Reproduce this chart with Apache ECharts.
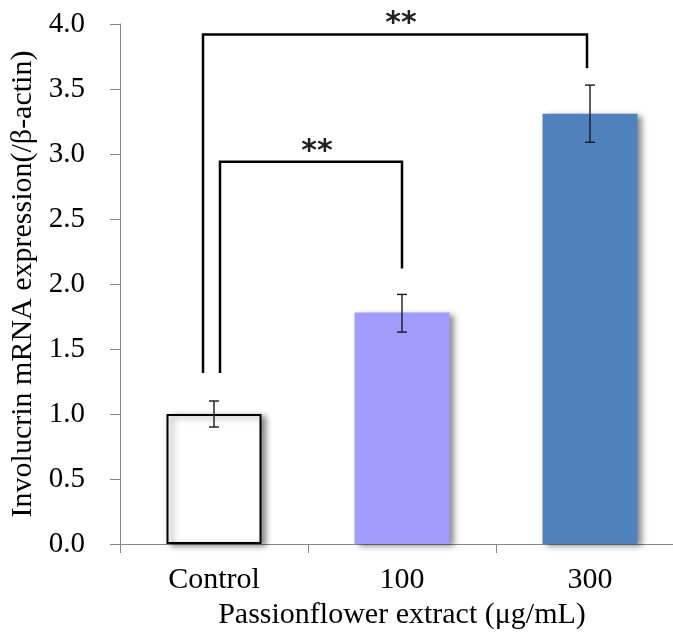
<!DOCTYPE html>
<html>
<head>
<meta charset="utf-8">
<script src="https://cdn.jsdelivr.net/npm/echarts@6/dist/echarts.min.js"></script>
<style>
html,body{margin:0;padding:0;background:#fff;}
#chart{width:673px;height:634px;}
</style>
</head>
<body>
<div id="chart"></div>
<script>
// ---- data ----
const categories = ['Control', '100', '300'];
const means = [1.00, 1.78, 3.31];
const errLow = [0.90, 1.63, 3.09];
const errHigh = [1.10, 1.92, 3.53];
const yMin = 0, yMax = 4.0, yStep = 0.5;
// significance brackets: [groupA, groupB, topValue, bottomA, bottomB]
const sigPairs = [[0, 1, 2.94, 1.315, 2.12], [0, 2, 3.92, 1.315, 3.66]];
const sigLabels = ['**', '**'];
const xTitle = 'Passionflower extract (μg/mL)';
const yTitle = 'Involucrin mRNA expression(/β-actin)';

// ---- styles ----
const serif = '"Liberation Serif", "Times New Roman", serif';
const barColors = ['#ffffff', '#a09cfc', '#4f81bd'];
const axisGray = '#868686';
const leftOffsets = [6, -11];
const rightOffsets = [0, -3];

const chart = echarts.init(document.getElementById('chart'), null, {renderer: 'canvas'});

const option = {
  backgroundColor: '#ffffff',
  animation: false,
  grid: {left: 120, top: 24, width: 564, height: 520, containLabel: false, outerBoundsMode: 'none'},
  xAxis: {
    type: 'category',
    data: categories,
    name: xTitle,
    nameLocation: 'middle',
    nameGap: 56,
    nameTextStyle: {fontFamily: serif, fontSize: 30, color: '#000'},
    axisLine: {lineStyle: {color: axisGray, width: 1}},
    axisTick: {show: true, length: 9, lineStyle: {color: axisGray}},
    axisLabel: {fontFamily: serif, fontSize: 30, color: '#000', margin: 21}
  },
  yAxis: {
    type: 'value',
    min: yMin, max: yMax, interval: yStep,
    name: yTitle,
    nameLocation: 'middle',
    nameGap: 79,
    nameRotate: 90,
    nameTextStyle: {fontFamily: serif, fontSize: 30, color: '#000'},
    axisLine: {show: true, lineStyle: {color: axisGray, width: 1}},
    axisTick: {show: true, length: 10, lineStyle: {color: axisGray}},
    splitLine: {show: false},
    axisLabel: {fontFamily: serif, fontSize: 29, color: '#000', margin: 35,
      formatter: v => v.toFixed(1)}
  },
  series: [
    {
      type: 'bar',
      barWidth: 95,
      data: means.map((v, i) => ({
        value: v,
        itemStyle: {
          color: barColors[i],
          borderColor: i === 0 ? '#000' : barColors[i],
          borderWidth: i === 0 ? 2 : 0,
          shadowColor: 'rgba(0,0,0,0.45)',
          shadowBlur: 6,
          shadowOffsetX: 4,
          shadowOffsetY: 2
        }
      }))
    },
    {
      type: 'custom',
      z: 5,
      data: categories.map((c, i) => [i, errLow[i], errHigh[i]]),
      encode: {x: 0, y: [1, 2]},
      renderItem: function (params, api) {
        const x = api.value(0);
        const lo = api.coord([x, api.value(1)]);
        const hi = api.coord([x, api.value(2)]);
        const hw = 5;
        const st = {stroke: '#1a1a1a', lineWidth: 1.4};
        return {
          type: 'group',
          children: [
            {type: 'line', shape: {x1: lo[0], y1: lo[1], x2: hi[0], y2: hi[1]}, style: st},
            {type: 'line', shape: {x1: lo[0] - hw, y1: lo[1], x2: lo[0] + hw, y2: lo[1]}, style: st},
            {type: 'line', shape: {x1: hi[0] - hw, y1: hi[1], x2: hi[0] + hw, y2: hi[1]}, style: st}
          ]
        };
      }
    },
    {
      type: 'custom',
      z: 6,
      data: sigPairs,
      encode: {x: 0, y: 2},
      renderItem: function (params, api) {
        const i = params.dataIndex;
        const a = api.value(0), b = api.value(1);
        const top = api.value(2), botA = api.value(3), botB = api.value(4);
        const pA = api.coord([a, botA]);
        const pAt = api.coord([a, top]);
        const pB = api.coord([b, botB]);
        const xa = pA[0] + leftOffsets[i];
        const xb = pB[0] + rightOffsets[i];
        const yt = pAt[1];
        return {
          type: 'group',
          children: [
            {type: 'polyline',
             shape: {points: [[xa, pA[1]], [xa, yt], [xb, yt], [xb, pB[1]]]},
             style: {stroke: '#000', lineWidth: 2.5, fill: null}},
            {type: 'text',
             style: {text: sigLabels[i], x: (xa + xb) / 2 + 6, y: yt + 5,
               textAlign: 'center', textVerticalAlign: 'bottom',
               font: 'bold 30px "DejaVu Sans", sans-serif', fill: '#222'}}
          ]
        };
      }
    }
  ]
};
chart.setOption(option);
</script>
</body>
</html>
